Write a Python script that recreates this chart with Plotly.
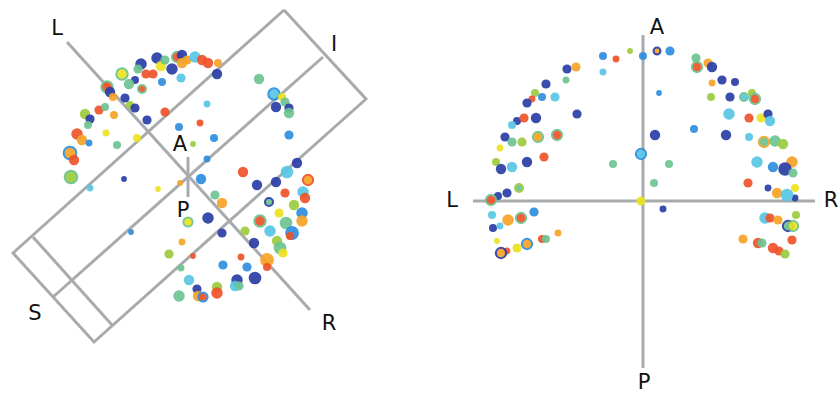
import plotly.graph_objects as go

# ---------------- data ----------------
PALETTE = {
    "db": "#2a3ea5", "b": "#2f8ee0", "c": "#58c6e4", "g": "#6dc390",
    "lg": "#9ccb3e", "y": "#ece31f", "o": "#f6a326", "r": "#ef5329",
}

# left panel points: x, y, diameter, colour, ring colour
left_x = [141,157,161,165,172,177,182,182,187,195,202,208,218,217,146,153,138,162,181,122,135,129,142,107,110,113,125,130,135,147,165,207,200,179,214,85,90,88,99,105,114,106,137,77,82,89,70,74,71,117,90,124,158,131,180,259,274,282,285,276,289,289,193,289,207,201,243,297,287,257,276,308,303,285,215,222,188,208,222,305,269,294,302,302,279,260,286,270,245,292,290,254,277,280,283,267,267,182,169,193,241,223,247,181,189,237,255,235,239,197,217,217,179,198,203]
left_y = [64,58,66,60,69,57,55,63,60,57,60,63,63,74,74,74,69,82,78,74,80,84,89,87,92,97,98,105,108,120,112,104,123,127,138,114,119,125,110,107,115,133,138,134,140,143,153,160,177,145,188,179,189,232,183,79,94,97,102,107,108,113,144,135,159,179,172,163,172,185,182,180,192,193,195,203,222,218,233,198,202,205,213,221,213,221,223,231,231,233,236,243,241,248,253,260,267,242,254,256,257,265,267,268,280,280,278,286,286,289,287,293,296,296,297]
left_d = [10,10,9,8,10,9,9,9,8,10,9,9,7,9,8,8,8,7,8,10,7,9,7,10,9,7,8,7,8,8,8,6,6,7,7,9,8,7,8,7,7,6,7,10,9,6,11,9,11,7,6,5,5,5,5,9,10,7,8,9,8,9,5,8,6,9,9,9,11,9,9,9,10,8,8,9,8,10,8,9,7,9,10,10,8,10,11,10,8,12,7,9,9,11,8,12,7,6,8,5,6,8,8,6,9,10,11,9,8,8,9,10,10,9,8]
left_c = ["db","db","y","g","db","r","db","o","o","c","r","r","o","db","r","r","g","b","c","y","db","g","r","r","db","o","db","lg","db","db","r","c","r","b","b","lg","db","g","r","g","o","y","y","r","o","b","o","r","lg","g","c","db","y","b","o","g","c","y","g","db","db","g","lg","b","b","b","r","db","c","db","db","o","c","r","g","o","y","db","db","r","g","lg","b","o","y","r","g","c","lg","b","r","db","lg","g","y","o","r","o","lg","r","r","b","b","g","c","db","db","c","g","db","lg","r","g","o","r"]
left_ring = ["","","","","","g","","","","","","","","","","","","","","g","","","g","g","","","","","","","","","","","","","","","","","","","","","","","b","","g","","","","","","","","b","","","","","","","","","","","","","","","r","","","","","g","","","","db","","","","","g","","","","","","","","","","","","","","","","","","","","","","","","","","","","","b",""]

# right panel points
right_x = [603,616,630,643,603,567,576,566,546,535,532,542,555,527,577,517,524,536,512,505,512,522,538,557,500,496,501,512,527,544,641,613,519,507,498,491,641,492,508,521,534,493,500,497,558,542,546,527,517,507,501,657,670,696,708,697,712,712,722,735,659,711,730,744,752,755,729,749,761,768,770,655,694,726,749,764,775,783,669,654,757,773,792,785,793,748,768,777,795,795,787,663,765,770,778,796,788,793,743,758,762,792,773,779,785]
right_y = [56,59,51,56,72,69,67,80,84,93,99,97,97,103,114,121,118,118,125,137,142,142,137,135,148,162,169,167,162,157,154,164,188,193,196,200,201,215,220,218,212,228,226,241,233,239,239,244,248,251,253,51,51,58,63,67,67,83,80,82,93,97,97,97,93,99,114,118,118,114,121,135,129,135,137,142,141,144,164,183,162,167,162,169,173,183,188,193,188,198,195,209,218,218,220,215,226,226,239,243,243,240,248,251,254]
right_d = [7,6,5,7,6,8,8,6,8,7,6,7,8,8,8,7,8,9,7,8,8,8,9,9,6,7,9,9,9,8,9,7,7,8,7,9,8,7,10,9,8,7,6,5,6,7,7,9,8,6,9,6,8,8,8,9,9,6,8,7,5,7,8,7,7,9,10,8,8,8,9,9,7,9,7,9,10,9,7,7,10,9,10,10,8,8,6,9,7,6,11,6,10,8,8,7,9,9,8,9,8,8,9,8,8]
right_c = ["b","r","lg","b","c","db","o","g","db","lg","r","b","c","db","db","db","r","db","c","db","g","lg","o","r","y","lg","db","c","db","r","c","g","g","db","db","r","y","c","o","r","b","db","c","y","o","r","g","o","y","r","o","o","b","g","o","r","db","o","db","db","b","lg","db","c","lg","r","c","r","y","db","c","db","b","db","c","g","g","lg","g","g","c","b","o","db","g","r","db","o","y","db","c","db","c","r","o","lg","g","y","o","r","g","r","r","r","lg"]
right_ring = ["","","","","","","","","","","","","","","","","","","","","","","g","g","","","","","","","b","","lg","","","g","","","","g","","","","","","","","b","","","db","db","","","","g","","","","","","","","g","","g","","","","","","","","","","o","","","","","","","","db","","","","","","","","","","","","","db","g","","","","","",""]

# axis / box geometry (pixel coordinates of the diagram)
box_outer_x = [284, 366, 94, 13, 284]
box_outer_y = [10, 99, 342, 253, 10]
box_inner_x = [323, 53]
box_inner_y = [57, 297]
box_cross_x = [33, 112]
box_cross_y = [237, 325]
lr_axis_x = [67, 310]
lr_axis_y = [42, 310]
ap_axis_x = [188, 188]
ap_axis_y = [157, 197]
right_v_x = [643, 643]
right_v_y = [35, 368]
right_h_x = [473, 815]
right_h_y = [201, 201]

labels = ["L", "I", "A", "P", "S", "R", "A", "L", "R", "P"]
label_x = [57, 334, 180, 183, 35, 329, 657, 452, 831, 644]
label_y = [30, 46, 146, 212, 315, 325, 29, 202, 202, 384]

# ---------------- figure ----------------
fig = go.Figure()

segs_x, segs_y = [], []
for sx, sy in [(box_outer_x, box_outer_y), (box_inner_x, box_inner_y),
               (box_cross_x, box_cross_y), (lr_axis_x, lr_axis_y),
               (ap_axis_x, ap_axis_y), (right_v_x, right_v_y),
               (right_h_x, right_h_y)]:
    segs_x += list(sx) + [None]
    segs_y += list(sy) + [None]

fig.add_trace(go.Scatter(x=segs_x, y=segs_y, mode="lines",
                         line=dict(color="#a8abad", width=3),
                         hoverinfo="skip", showlegend=False))

SIZE_SCALE = 1.15


def add_points(xs, ys, ds, cs, rings):
    fig.add_trace(go.Scatter(
        x=xs, y=ys, mode="markers", showlegend=False,
        marker=dict(
            size=[d * SIZE_SCALE for d in ds],
            color=[PALETTE[c] for c in cs],
            opacity=0.92,
            line=dict(color=[PALETTE[r] if r else PALETTE[c] for r, c in zip(rings, cs)],
                      width=[2 if r else 0 for r in rings]),
        )))


add_points(left_x, left_y, left_d, left_c, left_ring)
add_points(right_x, right_y, right_d, right_c, right_ring)

fig.add_trace(go.Scatter(x=label_x, y=label_y, mode="text", text=labels,
                         textfont=dict(family="DejaVu Sans", size=21, color="#111111"),
                         showlegend=False, hoverinfo="skip"))

fig.update_xaxes(range=[0, 840], visible=False, fixedrange=True)
fig.update_yaxes(range=[396, 0], visible=False, fixedrange=True)
fig.update_layout(width=840, height=396, margin=dict(l=0, r=0, t=0, b=0),
                  plot_bgcolor="white", paper_bgcolor="white")

fig.write_html("out.html", config={"displayModeBar": False},
               post_script="document.body.style.margin='0';document.body.style.overflow='hidden';")
